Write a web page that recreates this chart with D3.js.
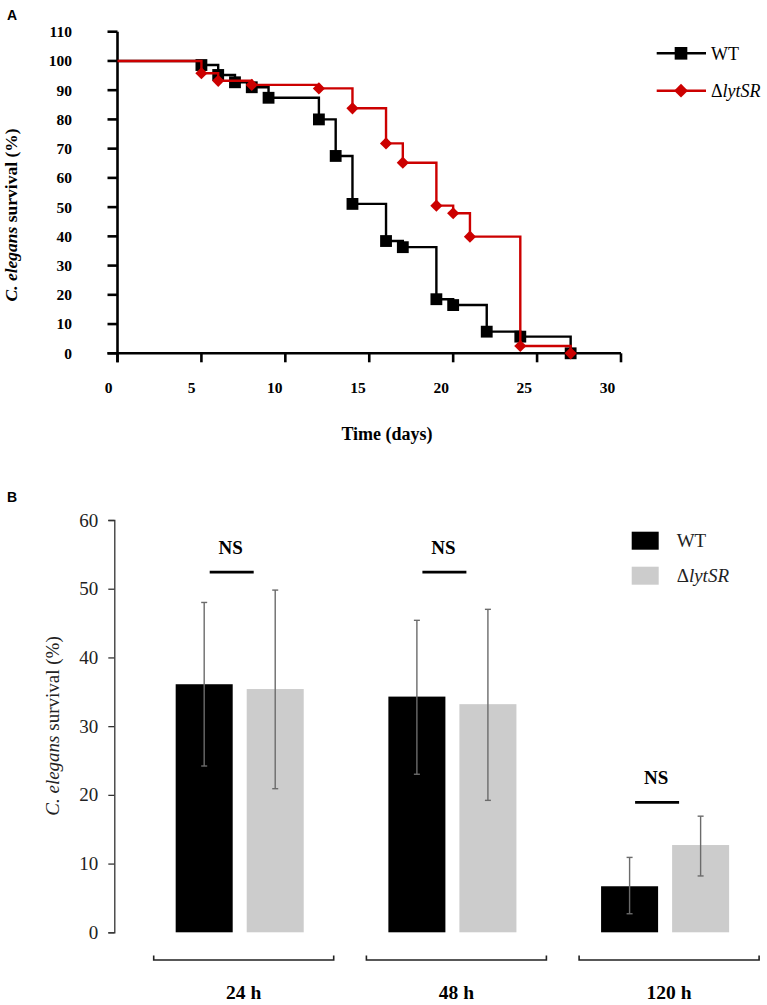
<!DOCTYPE html>
<html><head><meta charset="utf-8">
<script src="https://cdn.jsdelivr.net/npm/d3@7"></script>
<style>
html,body{margin:0;padding:0;background:#fff;}
svg{display:block;}
</style></head>
<body>
<svg id="chart" width="767" height="1005" font-family="Liberation Serif"></svg>
<script>
// ---------- Panel A data (Kaplan-Meier survival) ----------
const wtDays   = [0, 5, 6, 7, 8, 9, 12, 13, 14, 16, 17, 19, 20, 22, 24, 27];
const wtSurv   = [100, 98.6, 95.2, 92.7, 91.0, 87.4, 80.0, 67.5, 51.1, 38.4, 36.3, 18.5, 16.5, 7.4, 5.7, 0];
const mutDays  = [0, 5, 6, 8, 12, 14, 16, 17, 19, 20, 21, 24, 27];
const mutSurv  = [100, 95.8, 93.2, 91.8, 90.6, 83.8, 71.8, 65.2, 50.5, 47.9, 39.9, 2.5, 0];
const aYTicks  = [0, 10, 20, 30, 40, 50, 60, 70, 80, 90, 100, 110];
const aXTicks  = [0, 5, 10, 15, 20, 25, 30];

// ---------- Panel B data (bar chart) ----------
const timepoints = ["24 h", "48 h", "120 h"];
const strains    = ["WT", "ΔlytSR"];
const wtMean     = [36.1, 34.3, 6.7];
const wtLow      = [24.2, 23.0, 2.7];
const wtHigh     = [48.0, 45.4, 10.9];
const mutMean    = [35.4, 33.2, 12.7];
const mutLow     = [20.9, 19.2, 8.2];
const mutHigh    = [49.8, 47.0, 16.9];
const nsLevel    = [52.4, 52.4, 18.9];
const bYTicks    = [0, 10, 20, 30, 40, 50, 60];

const SERIF = "Liberation Serif";
const SANS = "Liberation Sans";
const svg = d3.select("#chart");
const RED = "#cc0000";

function txt(sel, size, weight) {
  return sel.attr("font-family", SERIF).attr("font-size", size).attr("font-weight", weight || "normal");
}

// ================= PANEL A =================
const xA = d3.scaleLinear().domain([0, 30]).range([117.5, 621]);
const xALabel = d3.scaleLinear().domain([0, 30]).range([108.5, 607.5]);
const yA = d3.scaleLinear().domain([0, 110]).range([353.3, 31.7]);

const gA = svg.append("g");
gA.append("text").attr("x", 7).attr("y", 20).text("A")
  .attr("font-family", SANS).attr("font-weight", "bold").attr("font-size", 14);

// axes
const axA = gA.append("g").attr("stroke", "#000").attr("stroke-width", 2.6).attr("fill", "none");
axA.append("line").attr("x1", xA(0)).attr("x2", xA(0)).attr("y1", yA(110)).attr("y2", yA(0) + 9);
axA.append("line").attr("x1", xA(0) - 10).attr("x2", xA(30)).attr("y1", yA(0)).attr("y2", yA(0));
axA.selectAll(".yt").data(aYTicks).join("line")
  .attr("x1", xA(0) - 10).attr("x2", xA(0)).attr("y1", d => yA(d)).attr("y2", d => yA(d));
axA.selectAll(".xt").data(aXTicks).join("line")
  .attr("x1", d => xA(d)).attr("x2", d => xA(d)).attr("y1", yA(0)).attr("y2", yA(0) + 9);

txt(gA.selectAll(".ylab").data(aYTicks).join("text"), 15.5, "bold")
  .attr("x", 72).attr("y", d => yA(d)).attr("dy", "0.35em")
  .attr("text-anchor", "end").text(d => d);
txt(gA.selectAll(".xlab").data(aXTicks).join("text"), 15.5, "bold")
  .attr("x", d => xALabel(d)).attr("y", 393)
  .attr("text-anchor", "middle").text(d => d);
txt(gA.append("text"), 18, "bold").attr("x", 387).attr("y", 440).attr("text-anchor", "middle")
  .text("Time (days)");
const tA = txt(gA.append("text"), 17.5, "bold").attr("transform", "translate(17,215) rotate(-90)")
  .attr("text-anchor", "middle");
tA.append("tspan").attr("font-style", "italic").text("C. elegans");
tA.append("tspan").text(" survival (%)");

const stepLine = d3.line().x(d => xA(d[0])).y(d => yA(d[1])).curve(d3.curveStepAfter);
const wtPts = wtDays.map((d, i) => [d, wtSurv[i]]);
const mutPts = mutDays.map((d, i) => [d, mutSurv[i]]);

gA.append("path").datum(wtPts).attr("d", stepLine).attr("fill", "none")
  .attr("stroke", "#000").attr("stroke-width", 2.4);
gA.selectAll(".wtm").data(wtPts.slice(1)).join("path")
  .attr("d", d3.symbol(d3.symbolSquare, 140))
  .attr("transform", d => `translate(${xA(d[0])},${yA(d[1])})`).attr("fill", "#000");

gA.append("path").datum(mutPts).attr("d", stepLine).attr("fill", "none")
  .attr("stroke", RED).attr("stroke-width", 2.4);
gA.selectAll(".mm").data(mutPts.slice(1)).join("path")
  .attr("d", d3.symbol(d3.symbolSquare, 74))
  .attr("transform", d => `translate(${xA(d[0])},${yA(d[1])}) rotate(45)`).attr("fill", RED);

// legend A
const legA = gA.append("g");
const legAItems = [{name: "WT", color: "#000", y: 53.3, shape: "sq"}, {name: "Δ", it: "lytSR", color: RED, y: 90.7, shape: "di"}];
legAItems.forEach(it => {
  legA.append("line").attr("x1", 656.7).attr("x2", 706).attr("y1", it.y).attr("y2", it.y)
    .attr("stroke", it.color).attr("stroke-width", 2.6);
  legA.append("path")
    .attr("d", d3.symbol(d3.symbolSquare, it.shape === "sq" ? 160 : 95))
    .attr("transform", `translate(681,${it.y})` + (it.shape === "di" ? " rotate(45)" : ""))
    .attr("fill", it.color);
  const t = txt(legA.append("text"), 18).attr("x", 711).attr("y", it.y).attr("dy", "0.35em");
  t.append("tspan").text(it.name);
  if (it.it) t.append("tspan").attr("font-style", "italic").text(it.it);
});

// ================= PANEL B =================
const gB = svg.append("g");
gB.append("text").attr("x", 7).attr("y", 502).text("B")
  .attr("font-family", SANS).attr("font-weight", "bold").attr("font-size", 14);

const yB = d3.scaleLinear().domain([0, 60]).range([932.3, 520]);
const x0 = d3.scaleBand().domain(timepoints).range([133.35, 771.45]).paddingInner(0.398).paddingOuter(0.199);
const x1 = d3.scaleBand().domain(strains).range([0, x0.bandwidth()]).paddingInner(14 / 71);
const fill = d3.scaleOrdinal().domain(strains).range(["#000000", "#cccccc"]);

const axB = d3.axisLeft(yB).tickValues(bYTicks).tickSize(6).tickPadding(10);
const axBG = gB.append("g").attr("transform", "translate(114.3,0)").call(axB)
  .attr("font-family", SERIF);
axBG.select(".domain").attr("stroke", "#333").attr("stroke-width", 1.3);
axBG.selectAll(".tick line").attr("stroke", "#333").attr("stroke-width", 1.3);
txt(axBG.selectAll(".tick text"), 19).attr("fill", "#222");

const tB = txt(gB.append("text"), 19).attr("transform", "translate(59,726) rotate(-90)")
  .attr("text-anchor", "middle").attr("fill", "#222");
tB.append("tspan").attr("font-style", "italic").text("C. elegans");
tB.append("tspan").text(" survival (%)");

const barData = [];
timepoints.forEach((tp, i) => {
  barData.push({tp, s: "WT", v: wtMean[i], lo: wtLow[i], hi: wtHigh[i]});
  barData.push({tp, s: "ΔlytSR", v: mutMean[i], lo: mutLow[i], hi: mutHigh[i]});
});
gB.selectAll(".bar").data(barData).join("rect")
  .attr("x", d => x0(d.tp) + x1(d.s)).attr("width", x1.bandwidth())
  .attr("y", d => yB(d.v)).attr("height", d => yB(0) - yB(d.v))
  .attr("fill", d => fill(d.s));

const eb = gB.append("g").attr("stroke", "#6b6b6b").attr("stroke-width", 1.4);
barData.forEach(d => {
  const cx = x0(d.tp) + x1(d.s) + x1.bandwidth() / 2;
  eb.append("line").attr("x1", cx).attr("x2", cx).attr("y1", yB(d.lo)).attr("y2", yB(d.hi));
  eb.append("line").attr("x1", cx - 3).attr("x2", cx + 3).attr("y1", yB(d.lo)).attr("y2", yB(d.lo));
  eb.append("line").attr("x1", cx - 3).attr("x2", cx + 3).attr("y1", yB(d.hi)).attr("y2", yB(d.hi));
});

// NS markers
timepoints.forEach((tp, i) => {
  const c = x0(tp) + x0.bandwidth() / 2 - 8;
  gB.append("line").attr("x1", c - 22).attr("x2", c + 22).attr("y1", yB(nsLevel[i])).attr("y2", yB(nsLevel[i]))
    .attr("stroke", "#000").attr("stroke-width", 2.8);
  txt(gB.append("text"), 19, "bold").attr("x", c - 1).attr("y", yB(nsLevel[i]) - 18)
    .attr("text-anchor", "middle").text("NS");
});

// brackets and group labels
timepoints.forEach(tp => {
  const c = x0(tp) + x0.bandwidth() / 2 + 4;
  gB.append("path").attr("d", `M${c - 90},955.5 V960 H${c + 90} V955.5`)
    .attr("fill", "none").attr("stroke", "#222").attr("stroke-width", 1.6);
  txt(gB.append("text"), 19.5, "bold").attr("x", c).attr("y", 999).attr("text-anchor", "middle")
    .text(tp);
});

// legend B
strains.forEach((s, i) => {
  const y = 531.7 + i * 35;
  gB.append("rect").attr("x", 631.7).attr("y", y).attr("width", 27).attr("height", 18).attr("fill", fill(s));
  const t = txt(gB.append("text"), 19).attr("x", 676.7).attr("y", y + 9).attr("dy", "0.35em").attr("fill", "#222");
  if (s === "WT") t.text("WT");
  else { t.append("tspan").text("Δ"); t.append("tspan").attr("font-style", "italic").text("lytSR"); }
});
</script>
</body></html>
